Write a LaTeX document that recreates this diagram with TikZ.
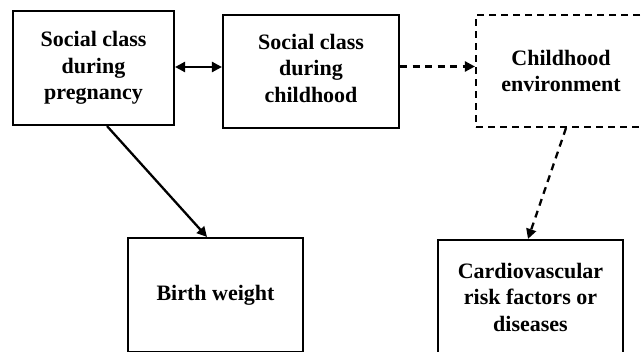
\documentclass[tikz,border=0pt]{standalone}
\usepackage{fontspec}
\setmainfont{Liberation Serif}
\usetikzlibrary{arrows.meta}
\begin{document}
\begin{tikzpicture}[x=1pt,y=-1pt,
  box/.style={draw, line width=2.1pt, align=center, inner sep=0pt,
    font=\fontsize{22}{26.5}\selectfont\bfseries},
  dbox/.style={box, dash pattern=on 7pt off 5pt},
  tip/.tip={Triangle[length=10pt,width=10pt]},
  conn/.style={line width=2.3pt, -tip},
  dconn/.style={conn, dash pattern=on 7pt off 5.5pt}]
\useasboundingbox (0,0) rectangle (642,351);
\clip (0,0) rectangle (642,351);
\node[box, minimum width=161pt, minimum height=114pt] (b1) at (93.5,68) {Social class\\during\\pregnancy};
\node[box, minimum width=176pt, minimum height=113pt] (b2) at (311,71.5) {Social class\\during\\childhood\rule[-7pt]{0pt}{0pt}};
\node[dbox, minimum width=170pt, minimum height=112pt] (b3) at (561,71) {Childhood\\environment};
\node[box, minimum width=175pt, minimum height=114pt] (b4) at (215.5,295) {Birth weight};
\node[box, minimum width=185pt, minimum height=114pt] (b5) at (530.5,297) {Cardiovascular\\risk factors or\\diseases};
\draw[conn, tip-tip] ([yshift=1pt]b1.east) -- ([yshift=1pt]b1.east -| b2.west);
\draw[dconn] ([yshift=5pt]b2.east) -- ([yshift=5pt]b2.east -| b3.west);
\draw[conn] ([xshift=13.5pt]b1.south) -- ([xshift=-8.5pt]b4.north);
\draw[dconn] ([xshift=5pt]b3.south) -- ([xshift=-2.5pt]b5.north);
\end{tikzpicture}
\end{document}
